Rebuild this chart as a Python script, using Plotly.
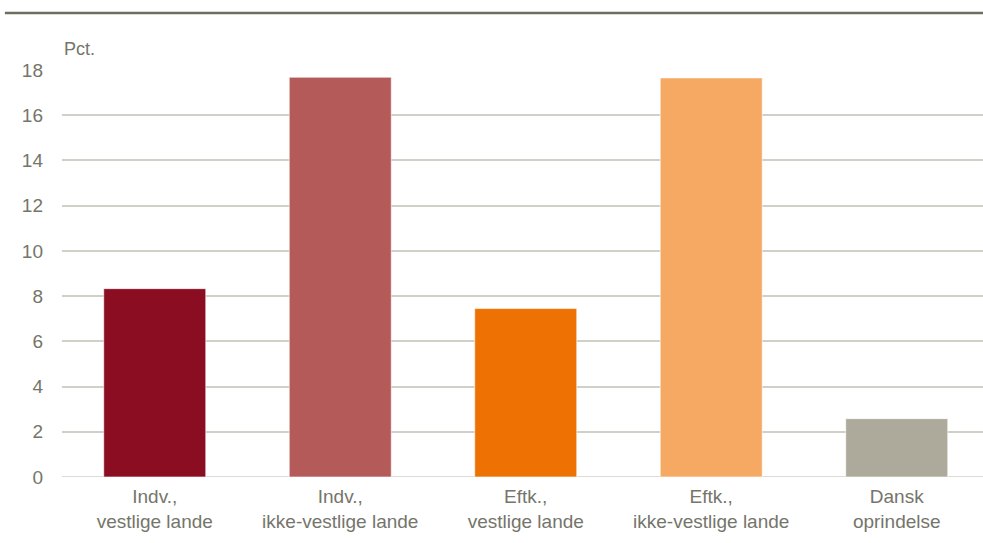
import plotly.graph_objects as go

categories = ["Indv.,<br>vestlige lande", "Indv.,<br>ikke-vestlige lande",
              "Eftk.,<br>vestlige lande", "Eftk.,<br>ikke-vestlige lande",
              "Dansk<br>oprindelse"]
values = [8.33, 17.68, 7.45, 17.65, 2.58]
colors = ["#8B0D22", "#B45A59", "#EE7203", "#F5A963", "#ADAA9B"]
y_ticks = [0, 2, 4, 6, 8, 10, 12, 14, 16, 18]

FONT = "Liberation Sans, Arial, sans-serif"
GREY = "#75756b"

fig = go.Figure(go.Bar(
    x=list(range(len(categories))), y=values,
    marker=dict(color=colors, line=dict(color="rgba(255,255,255,0.6)", width=1)),
    width=0.55, hoverinfo="skip",
))

fig.update_layout(
    width=983, height=543,
    margin=dict(l=62, r=0, t=70, b=66),
    paper_bgcolor="white", plot_bgcolor="white",
    showlegend=False,
    font=dict(family=FONT, color=GREY, size=19),
    xaxis=dict(
        tickmode="array", tickvals=list(range(len(categories))), ticktext=categories,
        range=[-0.5, 4.465], showgrid=False, zeroline=False, showline=False,
        ticks="", tickfont=dict(size=19, color=GREY), ticklabelstandoff=6,
    ),
    yaxis=dict(
        range=[0, 18], tickvals=y_ticks, showgrid=True, gridcolor="#d0d0c6", gridwidth=1.5,
        zeroline=False, showline=False, ticks="", ticklabelstandoff=18,
        tickfont=dict(size=19, color=GREY),
    ),
    shapes=[
        dict(type="line", xref="paper", yref="y", x0=0, x1=1, y0=0, y1=0,
             line=dict(color="#d0d0c6", width=1.5), layer="below"),
        dict(type="line", xref="paper", yref="paper", x0=-0.062, x1=1,
             y0=1.14, y1=1.14, line=dict(color="#6e6e5e", width=2.5)),
    ],
    annotations=[
        dict(text="Pct.", xref="paper", yref="paper", x=0, y=1.022,
             xanchor="left", yanchor="bottom", showarrow=False,
             font=dict(size=18, color=GREY)),
    ],
)

fig.write_html("out.html", config={"displayModeBar": False},
               post_script="document.body.style.margin='0';document.body.style.padding='0';")
